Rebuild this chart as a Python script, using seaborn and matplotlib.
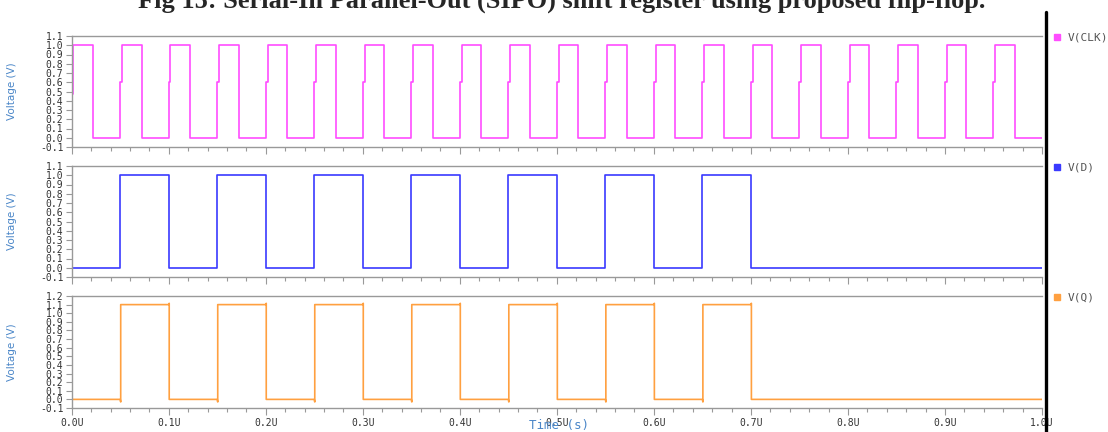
import numpy as np
import pandas as pd
import matplotlib
matplotlib.use("Agg")
import matplotlib.pyplot as plt
from matplotlib.lines import Line2D
from matplotlib.ticker import MultipleLocator, FormatStrFormatter
import seaborn as sns


# waveform data (time in us)

clk_rise = [0.0, 0.05, 0.10, 0.15, 0.20, 0.25, 0.30, 0.35, 0.40, 0.45,
            0.50, 0.55, 0.60, 0.65, 0.70, 0.75, 0.80, 0.85, 0.90, 0.95]
clk_fall = [0.022, 0.072, 0.122, 0.172, 0.222, 0.272, 0.322, 0.372, 0.422, 0.472,
            0.522, 0.572, 0.622, 0.672, 0.722, 0.772, 0.822, 0.872, 0.922, 0.972]
clk_step = [0.47, 0.6, 0.6, 0.6, 0.6, 0.6, 0.6, 0.6, 0.6, 0.6,
            0.6, 0.6, 0.6, 0.6, 0.6, 0.6, 0.6, 0.6, 0.6, 0.6]
clk_high = 1.0

d_rise = [0.05, 0.15, 0.25, 0.35, 0.45, 0.55, 0.65]
d_fall = [0.10, 0.20, 0.30, 0.40, 0.50, 0.60, 0.70]
d_high = 1.0

q_rise = [0.0505, 0.1505, 0.2505, 0.3505, 0.4505, 0.5505, 0.6505]
q_fall = [0.1005, 0.2005, 0.3005, 0.4005, 0.5005, 0.6005, 0.7005]
q_high = 1.1
q_peak = 1.115
q_dip = -0.03

t_end = 1.0

title = "Fig 15: Serial-In Parallel-Out (SIPO) shift register using proposed flip-flop."


def clk_wave():
    t, v = [], []
    for r, f, s in zip(clk_rise, clk_fall, clk_step):
        t += [r, r, r + 0.0018, r + 0.0018, f, f]
        v += [0.0, s, s, clk_high, clk_high, 0.0]
    t.append(t_end)
    v.append(0.0)
    return pd.DataFrame({"t": t, "v": v})


def d_wave():
    t, v = [0.0], [0.0]
    for r, f in zip(d_rise, d_fall):
        t += [r, r, f, f]
        v += [0.0, d_high, d_high, 0.0]
    t.append(t_end)
    v.append(0.0)
    return pd.DataFrame({"t": t, "v": v})


def q_wave():
    t, v = [0.0], [0.0]
    for r, f in zip(q_rise, q_fall):
        t += [r - 0.0005, r, r, f - 0.0008, f, f]
        v += [0.0, q_dip, q_high, q_high, q_peak, 0.0]
    t.append(t_end)
    v.append(0.0)
    return pd.DataFrame({"t": t, "v": v})


sns.set_style("white")
plt.rcParams["font.family"] = ["DejaVu Sans"]

W, H = 1108, 432
fig = plt.figure(figsize=(W / 100, H / 100), dpi=100)

left = 71.7 / W
width = (1042 - 71.7) / W
mono = "DejaVu Sans Mono"

panels = [
    (clk_wave(), "#ff4dff", "V(CLK)", 36, 147, -0.1, 1.1),
    (d_wave(), "#3a3aff", "V(D)", 166, 277, -0.1, 1.1),
    (q_wave(), "#ffa040", "V(Q)", 296, 408, -0.1, 1.2),
]

axes = []
for i, (df, color, name, ytop, ybot, lo, hi) in enumerate(panels):
    ax = fig.add_axes([left, 1 - ybot / H, width, (ybot - ytop) / H])
    sns.lineplot(data=df, x="t", y="v", ax=ax, color=color, lw=1.2,
                 sort=False, estimator=None)
    ax.set_xlim(0, 1.0)
    ax.set_ylim(lo, hi)
    ax.yaxis.set_major_locator(MultipleLocator(0.1))
    ax.yaxis.set_major_formatter(FormatStrFormatter("%.1f"))
    ax.xaxis.set_major_locator(MultipleLocator(0.1))
    ax.xaxis.set_minor_locator(MultipleLocator(0.02))
    ax.xaxis.set_major_formatter(FormatStrFormatter("%.1fU"))
    ax.tick_params(axis="y", direction="out", length=4, width=0.8, color="#999999",
                   labelsize=7, labelcolor="#333333", pad=2, left=True)
    ax.tick_params(axis="x", which="major", direction="out", length=5, width=0.8,
                   color="#999999", labelsize=7, labelcolor="#333333", pad=2, bottom=True)
    ax.tick_params(axis="x", which="minor", direction="out", length=3, width=0.8,
                   color="#999999", bottom=True)
    for lab in ax.get_xticklabels() + ax.get_yticklabels():
        lab.set_family(mono)
    if i < 2:
        ax.tick_params(axis="x", labelbottom=False)
    for s in ["top", "left", "bottom"]:
        ax.spines[s].set_color("#999999")
        ax.spines[s].set_linewidth(1.0)
    ax.spines["right"].set_visible(False)
    ax.set_xlabel("")
    ax.set_ylabel("Voltage (V)", color="#4a86c8", fontsize=7.5)
    ax.yaxis.set_label_coords(-0.056, 0.5)

    # legend swatch at the right
    fig.add_artist(Line2D([1057 / W], [1 - (ytop + 1) / H], marker="s", markersize=5,
                          color=color, lw=0, transform=fig.transFigure))
    fig.text(1068 / W, 1 - (ytop + 1) / H, name, fontsize=8, color="#555555",
             va="center", ha="left", family=mono)
    axes.append(ax)

fig.text(559 / W, 1 - 426 / H, "Time (s)", color="#4a86c8", fontsize=9,
         ha="center", va="center", family=mono)

# thick divider on the right
fig.add_artist(Line2D([1046 / W, 1046 / W], [1 - 12 / H, 0], color="black", lw=2.4,
                      transform=fig.transFigure))

fig.text(562 / W, 1 - 8 / H, title, fontsize=19, fontweight="bold",
         family="Liberation Serif", ha="center", va="baseline")

fig.savefig("out.png", dpi=100)
